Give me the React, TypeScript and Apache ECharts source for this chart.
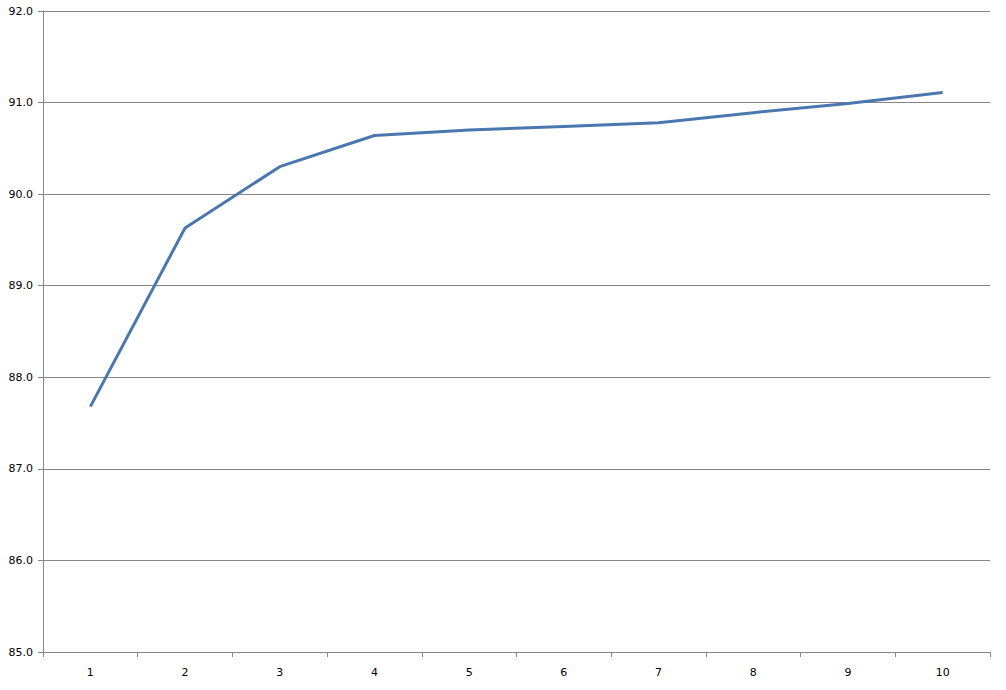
import React, { useEffect, useRef } from "react";
import * as echarts from "echarts";

const categories = ["1", "2", "3", "4", "5", "6", "7", "8", "9", "10"];
const values = [87.68, 89.63, 90.3, 90.64, 90.7, 90.74, 90.78, 90.89, 90.99, 91.11];

export default function App() {
  const ref = useRef<HTMLDivElement>(null);
  useEffect(() => {
    document.body.style.margin = "0";
    const chart = echarts.init(ref.current!, null, { renderer: "svg" });
    const axisColor = "#868686";
    chart.setOption({
      animation: false,
      backgroundColor: "#ffffff",
      grid: { left: 43, right: 16, top: 11, bottom: 38, containLabel: false },
      xAxis: {
        type: "category",
        data: categories,
        boundaryGap: true,
        axisLine: { lineStyle: { color: axisColor, width: 1 } },
        axisTick: { show: true, alignWithLabel: false, length: 5, lineStyle: { color: axisColor } },
        axisLabel: { color: "#000", fontFamily: "DejaVu Sans", fontSize: 11, margin: 15 },
        splitLine: { show: false },
      },
      yAxis: {
        type: "value",
        min: 85,
        max: 92,
        interval: 1,
        axisLine: { show: true, lineStyle: { color: axisColor, width: 1 } },
        axisTick: { show: true, length: 5, lineStyle: { color: axisColor } },
        axisLabel: {
          color: "#000",
          fontFamily: "DejaVu Sans",
          fontSize: 11,
          margin: 10,
          formatter: (v: number) => v.toFixed(1),
        },
        splitLine: { show: true, lineStyle: { color: axisColor, width: 1 } },
      },
      series: [
        {
          type: "line",
          data: values,
          symbol: "none",
          lineStyle: { color: "#4A78AE", width: 3 },
        },
      ],
    });
    return () => chart.dispose();
  }, []);
  return <div ref={ref} style={{ width: 1006, height: 690 }} />;
}
